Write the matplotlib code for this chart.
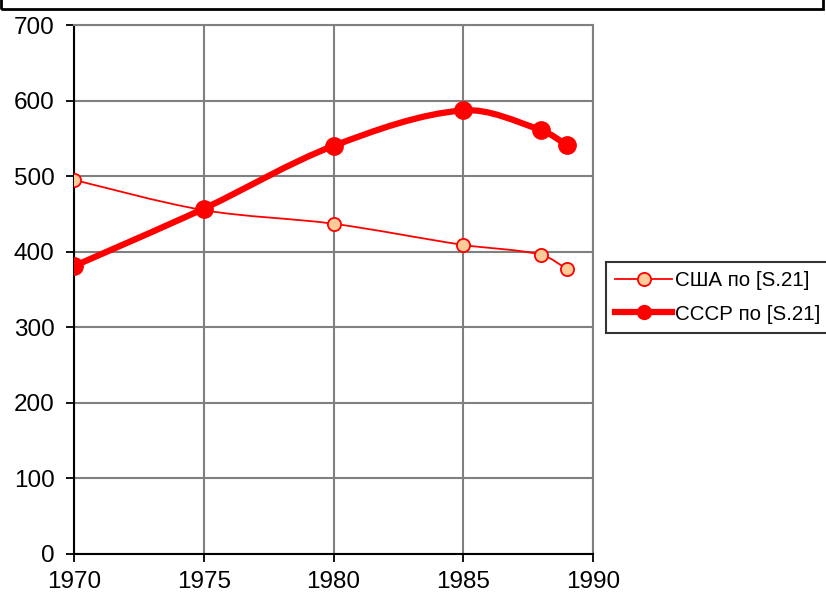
import matplotlib
matplotlib.use("Agg")
import matplotlib.pyplot as plt
from matplotlib.path import Path
from matplotlib.patches import PathPatch, Rectangle

plt.rcParams['font.family'] = ['Liberation Sans', 'DejaVu Sans']

years = [1970, 1975, 1980, 1985, 1988, 1989]
usa = [495, 455, 437, 409, 396, 377]
ussr = [381, 457, 540, 587, 561, 541]
labels = ["США по [S.21]", "СССР по [S.21]"]

# pixel scale of the plot area, used only to weight the smoothing
XS, YS = 519 / 20, 529 / 700


def smooth_path(xs, ys):
    # Excel-like smoothed line: bezier segments through the data points
    pts = list(zip(xs, ys))
    n = len(pts)

    def dist(a, b):
        return (((b[0] - a[0]) * XS) ** 2 + ((b[1] - a[1]) * YS) ** 2) ** 0.5

    verts = [pts[0]]
    codes = [Path.MOVETO]
    for i in range(n - 1):
        p0 = pts[i - 1] if i > 0 else pts[i]
        p1 = pts[i]
        p2 = pts[i + 1]
        p3 = pts[i + 2] if i + 2 < n else pts[i + 1]
        l01, l12, l23 = dist(p0, p1), dist(p1, p2), dist(p2, p3)
        k1 = l12 / (l01 + l12) / 3 if l01 > 0 else 1 / 6
        k2 = l12 / (l12 + l23) / 3 if l23 > 0 else 1 / 6
        c1 = (p1[0] + (p2[0] - p0[0]) * k1, p1[1] + (p2[1] - p0[1]) * k1)
        c2 = (p2[0] - (p3[0] - p1[0]) * k2, p2[1] - (p3[1] - p1[1]) * k2)
        verts += [c1, c2, p2]
        codes += [Path.CURVE4] * 3
    return Path(verts, codes)


fig = plt.figure(figsize=(8.26, 5.94), dpi=100)
ax = fig.add_axes([74 / 826, 1 - 554 / 594, (593 - 74) / 826, (554 - 25) / 594])

ax.add_patch(PathPatch(smooth_path(years, usa), fill=False, edgecolor='red', lw=1.3, zorder=3))
ax.add_patch(PathPatch(smooth_path(years, ussr), fill=False, edgecolor='red', lw=4.5, zorder=3,
                       capstyle='round', joinstyle='round'))
ax.plot(years, usa, ls='none', marker='o', ms=9.5, mfc='#FFCC99', mec='red', mew=1.3, zorder=4)
ax.plot(years, ussr, ls='none', marker='o', ms=12.5, mfc='red', mec='red', zorder=5)

ax.set_xlim(1970, 1990)
ax.set_ylim(0, 700)
ax.set_xticks(range(1970, 1991, 5))
ax.set_yticks(range(0, 701, 100))
ax.grid(True, color='#808080', lw=1.5)
ax.set_axisbelow(True)
for s in ['top', 'right']:
    ax.spines[s].set_color('#808080')
    ax.spines[s].set_linewidth(1.5)
for s in ['left', 'bottom']:
    ax.spines[s].set_color('black')
    ax.spines[s].set_linewidth(1.5)
ax.tick_params(axis='y', length=6, width=1.3, pad=8, labelsize=17.5)
ax.tick_params(axis='x', length=6, width=1.3, pad=6, labelsize=17.5)

h1, = plt.plot([], [], color='red', lw=1.3, marker='o', ms=9.5, mfc='#FFCC99', mec='red', mew=1.3)
h2, = plt.plot([], [], color='red', lw=4.5, marker='o', ms=10, mfc='red', mec='red')
leg = fig.legend([h1, h2], labels, loc='upper left', bbox_to_anchor=(606 / 826, 1 - 262 / 594),
                 fontsize=14.8, frameon=True, fancybox=False, edgecolor='black',
                 handlelength=2.75, handletextpad=0.15, borderpad=0.45, labelspacing=0.7,
                 borderaxespad=0)
leg.get_frame().set_linewidth(1.5)

# frame of the box above the chart, cut off at the top
fig.patches.append(Rectangle((1 / 826, 1 - 9 / 594), 822 / 826, 0.2, transform=fig.transFigure,
                             fill=False, edgecolor='black', lw=2, clip_on=False))

fig.savefig('out.png', dpi=100)
